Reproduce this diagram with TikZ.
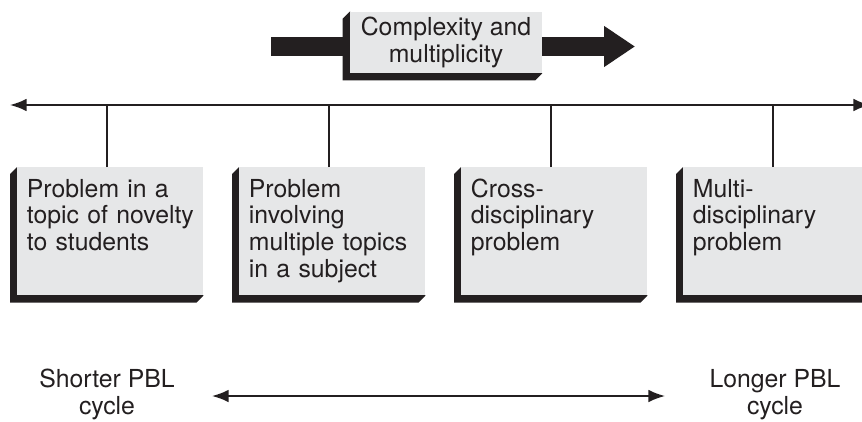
\documentclass[tikz,border=0pt]{standalone}
\usepackage{fontspec}
\setmainfont{TeX Gyre Heros}
\usetikzlibrary{arrows.meta,positioning,calc,backgrounds}
\definecolor{boxgray}{HTML}{E6E7E8}
\definecolor{inkblack}{HTML}{231F20}

\begin{document}
\begin{tikzpicture}[
    x=0.75pt, y=-0.75pt,
    every node/.style={font=\fontsize{18.6}{20}\selectfont, text=inkblack},
    probbox/.style={fill=boxgray, anchor=north west, align=left, text width=125pt,
        inner xsep=7.25pt, inner ysep=9pt, text height=13.5pt, text depth=64.5pt,
        execute at begin node={\hyphenpenalty=10000\hbadness=10000\hfuzz=20pt}},
    topbox/.style={fill=boxgray, minimum width=144pt, minimum height=45.75pt, align=center, inner sep=0pt},
    cyclelabel/.style={align=center, inner sep=0pt, anchor=base},
    axisline/.style={draw=inkblack, line width=1.3pt},
    tip/.style={{Latex[length=12.5pt,width=9.5pt]}-{Latex[length=12.5pt,width=9.5pt]}}
]
    \clip (0,0) rectangle (862,421);

    % Complexity arrow
    \node[topbox] (cm) at (446,42.5) {Complexity and\\multiplicity};
    \coordinate (cmtail) at (271,46.5);
    \coordinate (cmhead) at (635,46.5);

    % Axis and problem types
    \coordinate (axl) at (10,105);
    \coordinate (axr) at (870,105);
    \node[probbox] (b1) at (17,167)  {Problem in a\\topic~of~novelty\\to students};
    \node[probbox] (b2) at (239,167) {Problem\\involving\\multiple~topics\\in a subject};
    \node[probbox] (b3) at (461,167) {Cross-\\disciplinary\\problem};
    \node[probbox] (b4) at (683,167) {Multi-\\disciplinary\\problem};

    \draw[axisline, tip] (axl) -- (axr);
    \foreach \b in {b1, b2, b3, b4} {
        \draw[axisline] ([xshift=67.5pt]\b.north west) -- ([xshift=67.5pt]\b.north west |- axl);
    }

    % Shadows and thick arrow behind the boxes
    \begin{scope}[on background layer]
        \draw[inkblack, line width=14.25pt, -{Triangle[length=23.25pt,width=29.25pt]}] (cmtail) -- (cmhead);
        \foreach \b in {cm, b1, b2, b3, b4} {
            \fill[inkblack] (\b.north west) -- ++(-7,7) |- ($(\b.south east)+(-7,7)$) -- (\b.south east) -- cycle;
        }
    \end{scope}

    % PBL cycle
    \node[cyclelabel] (sh) at (107,414) {Shorter PBL\\cycle};
    \node[cyclelabel] (lg) at (775,414) {Longer PBL\\cycle};
    \coordinate (cyl) at (212,396);
    \coordinate (cyr) at (665,396);
    \draw[axisline, tip] (cyl) -- (cyr);
\end{tikzpicture}
\end{document}
